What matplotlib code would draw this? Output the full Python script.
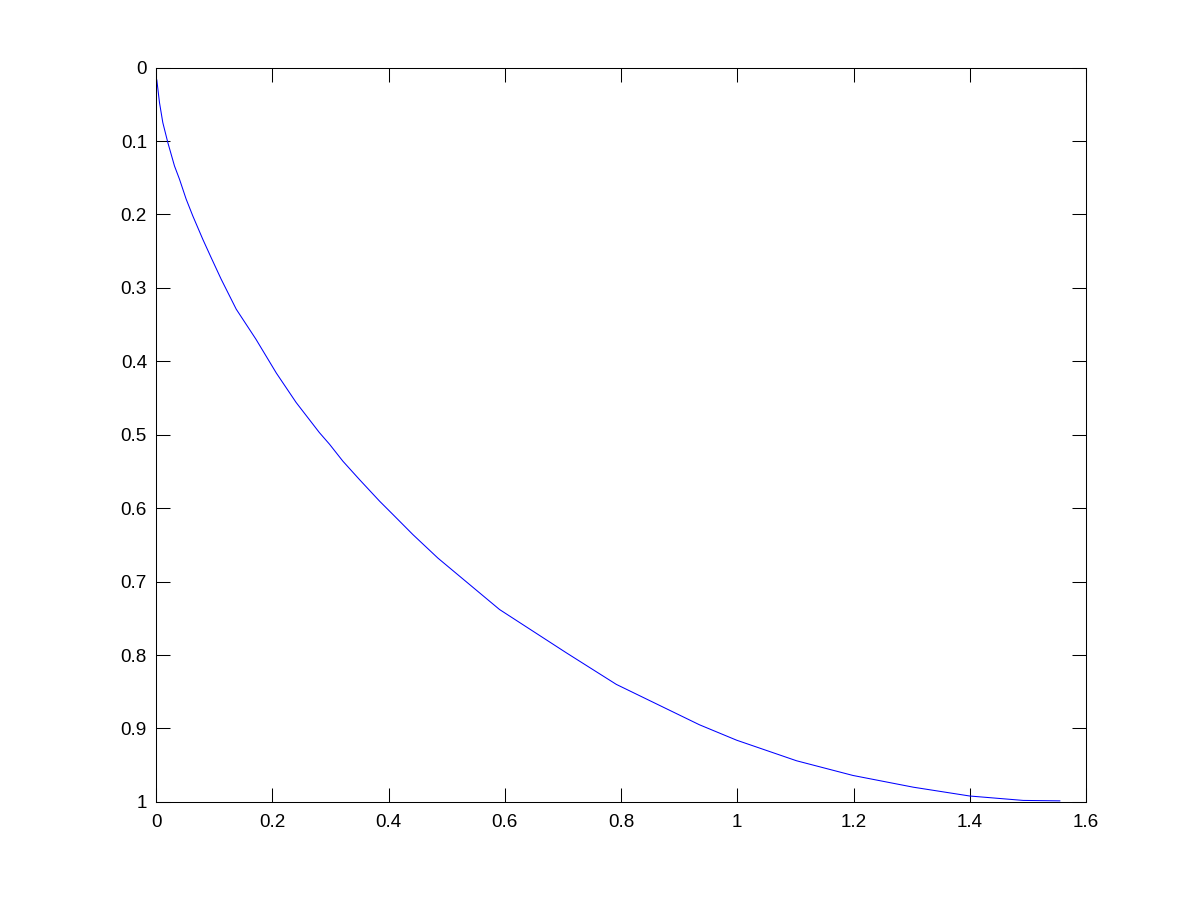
import matplotlib
matplotlib.use("Agg")
import matplotlib.pyplot as plt

x_vals = [0.0014, 0.006, 0.0117, 0.0203, 0.0318, 0.0404, 0.0518, 0.0633, 0.0806,
          0.095, 0.112, 0.138, 0.172, 0.207, 0.241, 0.281, 0.2986, 0.3215, 0.350,
          0.3847, 0.4076, 0.442, 0.485, 0.591, 0.706, 0.792, 0.935, 0.999, 1.102,
          1.199, 1.303, 1.400, 1.492, 1.555]
y_vals = [0.0169, 0.0477, 0.0749, 0.102, 0.134, 0.152, 0.179, 0.202, 0.234,
          0.259, 0.288, 0.329, 0.370, 0.416, 0.456, 0.497, 0.513, 0.536, 0.561,
          0.5905, 0.6086, 0.636, 0.668, 0.738, 0.797, 0.840, 0.895, 0.916, 0.944,
          0.964, 0.980, 0.992, 0.998, 0.9986]
x_ticks = [0, 0.2, 0.4, 0.6, 0.8, 1, 1.2, 1.4, 1.6]
x_ticklabels = ["0", "0.2", "0.4", "0.6", "0.8", "1", "1.2", "1.4", "1.6"]
y_ticks = [0, 0.1, 0.2, 0.3, 0.4, 0.5, 0.6, 0.7, 0.8, 0.9, 1]
y_ticklabels = ["0", "0.1", "0.2", "0.3", "0.4", "0.5", "0.6", "0.7", "0.8", "0.9", "1"]

plt.rcParams['font.family'] = ['Liberation Sans', 'DejaVu Sans']

fig = plt.figure(figsize=(12, 9.01), dpi=100)
ax = fig.add_axes([0.13, 0.11, 0.775, 0.815])
ax.plot(x_vals, y_vals, color='#0000ff', linewidth=0.75)
ax.set_xlim(0, 1.6)
ax.set_ylim(1, 0)
ax.set_xticks(x_ticks)
ax.set_xticklabels(x_ticklabels)
ax.set_yticks(y_ticks)
ax.set_yticklabels(y_ticklabels)
ax.tick_params(direction='in', length=10, width=0.75, labelsize=13.6,
               top=True, right=True, pad=6.5)
ax.tick_params(axis='x', pad=9)
for s in ax.spines.values():
    s.set_linewidth(0.75)
fig.savefig("out.png", dpi=100)
